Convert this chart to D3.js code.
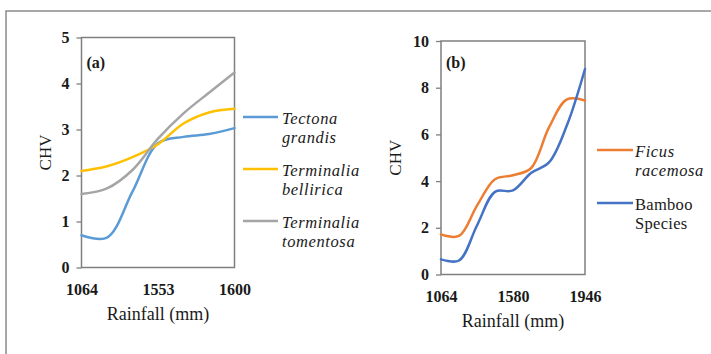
<!DOCTYPE html>
<html>
<head>
<meta charset="utf-8">
<script src="https://cdn.jsdelivr.net/npm/d3@7"></script>
<style>
  html, body { margin: 0; padding: 0; background: #fff; }
  svg { display: block; }
  text { font-family: "Liberation Serif", "Times New Roman", serif; fill: #1a1a1a; }
</style>
</head>
<body>
<svg id="chart" width="711" height="354"></svg>
<script>
// Panel (a): CHV of three tree species along the rainfall gradient
const catsA = ["1064", "", "", "1553", "", "", "1600"];
const tectonaGrandis = [0.7, 0.65, 1.65, 2.7, 2.84, 2.9, 3.03];
const terminaliaBellirica = [2.1, 2.2, 2.4, 2.68, 3.13, 3.37, 3.45];
const terminaliaTomentosa = [1.6, 1.72, 2.12, 2.8, 3.35, 3.8, 4.24];
const yTicksA = [0, 1, 2, 3, 4, 5];

// Panel (b): CHV of Ficus and bamboo along the rainfall gradient
const catsB = ["1064", "", "", "", "1580", "", "", "", "1946"];
const ficusRacemosa = [1.72, 1.65, 2.95, 4.08, 4.25, 4.55, 6.3, 7.5, 7.45];
const bambooSpecies = [0.65, 0.6, 2.1, 3.54, 3.6, 4.35, 4.8, 6.4, 8.8];
const yTicksB = [0, 2, 4, 6, 8, 10];

const svg = d3.select("#chart");
const axisColor = "#7f7f7f";
const serif = '"Liberation Serif", "Times New Roman", serif';

// outer frame (top and left edges)
svg.append("path")
  .attr("d", "M6,354 L6,11 L711,11")
  .attr("fill", "none").attr("stroke", "#8a8a8a").attr("stroke-width", 1.5);

const panels = [
  {
    tag: "(a)", cats: catsA, yTicks: yTicksA, yMax: 5,
    box: { x0: 81.5, x1: 234.5, y0: 37.5, y1: 267.5 },
    yLabelX: 45, xLabelY: 289, titleY: 314,
    legend: { x0: 243, x1: 278, tx: 282, y: [117, 169, 221] },
    series: [
      { name: ["Tectona", "grandis"], italic: true, color: "#5B9BD5", values: tectonaGrandis },
      { name: ["Terminalia", "bellirica"], italic: true, color: "#FFC000", values: terminaliaBellirica },
      { name: ["Terminalia", "tomentosa"], italic: true, color: "#A5A5A5", values: terminaliaTomentosa }
    ]
  },
  {
    tag: "(b)", cats: catsB, yTicks: yTicksB, yMax: 10,
    box: { x0: 441, x1: 585, y0: 41, y1: 274.5 },
    yLabelX: 395, xLabelY: 296, titleY: 321,
    legend: { x0: 597, x1: 633, tx: 635, y: [150, 203] },
    series: [
      { name: ["Ficus", "racemosa"], italic: true, color: "#ED7D31", values: ficusRacemosa },
      { name: ["Bamboo", "Species"], italic: false, color: "#4472C4", values: bambooSpecies }
    ]
  }
];

panels.forEach(p => {
  const b = p.box;
  const x = d3.scalePoint().domain(d3.range(p.cats.length)).range([b.x0, b.x1]);
  const y = d3.scaleLinear().domain([0, p.yMax]).range([b.y1, b.y0]);
  const g = svg.append("g");

  // plot frame
  g.append("rect")
    .attr("x", b.x0).attr("y", b.y0)
    .attr("width", b.x1 - b.x0).attr("height", b.y1 - b.y0)
    .attr("fill", "none").attr("stroke", axisColor).attr("stroke-width", 1.5);

  // y axis
  const yAxis = d3.axisLeft(y).tickValues(p.yTicks).tickFormat(d3.format("d"))
    .tickSize(5).tickPadding(7);
  const ya = g.append("g").attr("transform", `translate(${b.x0},0)`).call(yAxis);
  ya.attr("font-family", serif);
  ya.select(".domain").remove();
  ya.selectAll("line").attr("stroke", axisColor).attr("stroke-width", 1.3);
  ya.selectAll("text")
    .style("font-family", serif)
    .style("font-size", "16px").style("font-weight", "bold").attr("fill", "#1a1a1a");

  // x axis labels (sparse category labels)
  const xAxis = d3.axisBottom(x).tickSize(0).tickPadding(0)
    .tickFormat(i => p.cats[i]);
  const xa = g.append("g").attr("transform", `translate(0,${p.xLabelY})`).call(xAxis);
  xa.attr("font-family", serif);
  xa.select(".domain").remove();
  xa.selectAll("text")
    .attr("dy", "0.35em")
    .style("font-family", serif)
    .style("font-size", "16px").style("font-weight", "bold").attr("fill", "#1a1a1a");

  // axis titles
  g.append("text")
    .attr("transform", `translate(${p.yLabelX},${(b.y0 + b.y1) / 2}) rotate(-90)`)
    .attr("text-anchor", "middle").attr("dy", "0.35em")
    .style("font-size", "17px").text("CHV");
  g.append("text")
    .attr("x", (b.x0 + b.x1) / 2).attr("y", p.titleY)
    .attr("text-anchor", "middle").attr("dy", "0.35em")
    .style("font-size", "18px").text("Rainfall (mm)");

  // panel tag
  g.append("text")
    .attr("x", b.x0 + 5).attr("y", 62).attr("dy", "0.35em")
    .style("font-size", "16px").style("font-weight", "bold").text(p.tag);

  // series lines
  const line = d3.line()
    .x((d, i) => x(i)).y(d => y(d))
    .curve(d3.curveCatmullRom.alpha(0.5));
  p.series.forEach(s => {
    g.append("path")
      .datum(s.values)
      .attr("d", line)
      .attr("fill", "none").attr("stroke", s.color)
      .attr("stroke-width", 2.5).attr("stroke-linecap", "round");
  });

  // legend
  p.series.forEach((s, k) => {
    const ly = p.legend.y[k];
    g.append("line")
      .attr("x1", p.legend.x0).attr("x2", p.legend.x1)
      .attr("y1", ly).attr("y2", ly)
      .attr("stroke", s.color).attr("stroke-width", 2.5);
    const t = g.append("text")
      .attr("x", p.legend.tx).attr("y", ly + 1)
      .style("font-size", "16.5px")
      .style("font-style", s.italic ? "italic" : "normal")
      .style("letter-spacing", s.italic ? "0.6px" : "0.3px");
    s.name.forEach((w, j) => {
      t.append("tspan").attr("x", p.legend.tx)
        .attr("dy", j === 0 ? "0.35em" : "1.15em").text(w);
    });
  });
});
</script>
</body>
</html>
